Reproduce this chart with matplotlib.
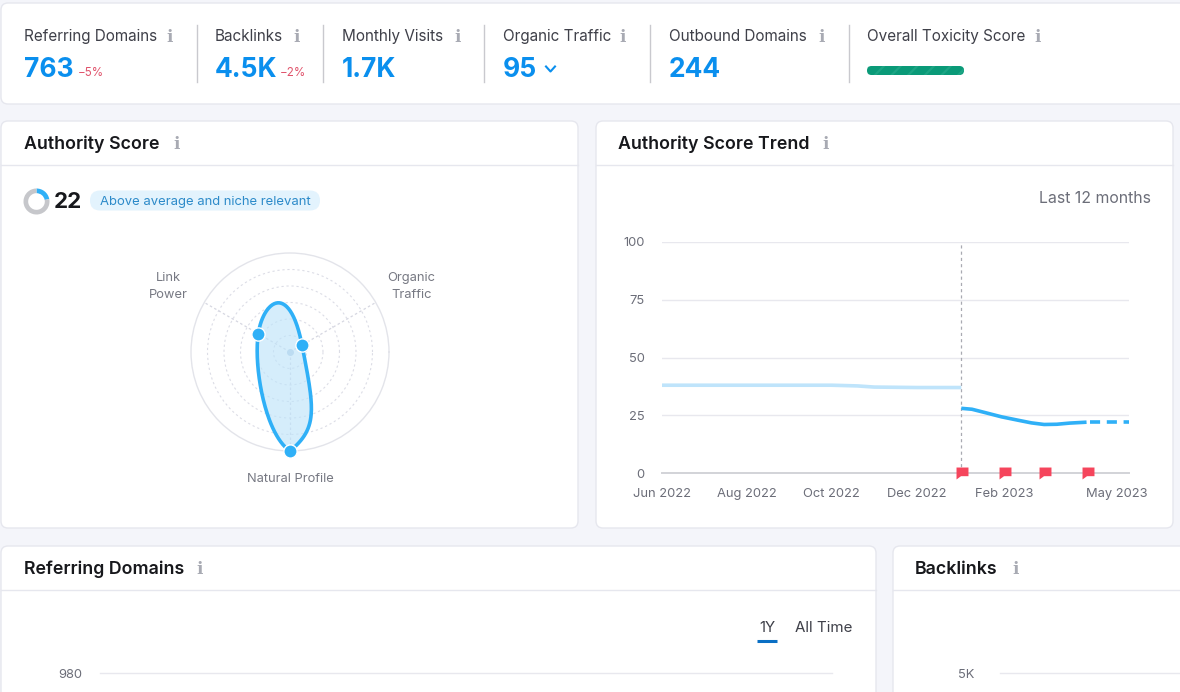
# Semrush style backlink overview dashboard
import numpy as np
import matplotlib
matplotlib.use("Agg")
import matplotlib.pyplot as plt
from matplotlib.patches import FancyBboxPatch
from matplotlib.path import Path

plt.rcParams['font.family'] = ['Inter', 'DejaVu Sans']
plt.rcParams['hatch.linewidth'] = 1.6

W, H = 1180, 692

# Top row metrics
metric_labels = ['Referring Domains', 'Backlinks', 'Monthly Visits', 'Organic Traffic', 'Outbound Domains', 'Overall Toxicity Score']
metric_values = ['763', '4.5K', '1.7K', '95', '244', '']
metric_deltas = ['−5%', '−2%', '', '', '', '']
toxicity_share = [1.0]

# Authority score
score = 22
score_badge = 'Above average and niche relevant'
radar_labels = ['Natural Profile', 'Link\nPower', 'Organic\nTraffic']
radar_angles = [270, 150, 30]
radar_values = [100, 37, 14]

# Trend chart
trend_ticks = [0, 25, 50, 75, 100]
month_ticks = [0, 2, 4, 6, 8.07, 11]
month_labels = ['Jun 2022', 'Aug 2022', 'Oct 2022', 'Dec 2022', 'Feb 2023', 'May 2023']
past_months = [0, 1, 2, 3, 4, 4.6, 5, 6, 7.05]
past_values = [38, 38, 38, 38, 38, 37.7, 37.2, 37, 37]
recent_months = [7.05, 7.3, 7.6, 8.0, 8.4, 8.7, 9.0, 9.3, 9.6, 10.0]
recent_values = [28, 27.6, 26.2, 24.3, 22.8, 21.7, 21, 21.1, 21.6, 22]
forecast_months = [10.07, 11]
forecast_values = [22, 22]
flag_months = [7.07, 8.08, 9.01, 10.03]
flag_values = [0, 0, 0, 0]

BLUE = '#0a8fee'
LINE_BLUE = '#2fb0f7'
TEXT = '#17181c'
MUTED = '#6c6e79'
GRID = '#e8e8ee'
ICON = '#a8aab3'

fig = plt.figure(figsize=(W / 100, H / 100), dpi=100, facecolor='#f4f5fa')


def px_axes(x0, y0, x1, y1, **kw):
    return fig.add_axes([x0 / W, 1 - y1 / H, (x1 - x0) / W, (y1 - y0) / H], **kw)


bg = fig.add_axes([0, 0, 1, 1])
bg.set_xlim(0, W)
bg.set_ylim(H, 0)
bg.axis('off')


def card(x0, y0, x1, y1):
    bg.add_patch(FancyBboxPatch((x0, y0), x1 - x0, y1 - y0, boxstyle='round,pad=0,rounding_size=7',
                                fc='white', ec='#e6e7ee', lw=1, zorder=1))


def info(x, y):
    bg.text(x, y, 'i', family='DejaVu Serif', fontweight='bold', fontsize=12, color=ICON,
            ha='center', va='baseline', zorder=3)


# cards
card(1, 3, 1190, 104)
card(1, 121, 578, 528)
card(596, 121, 1173, 528)
card(1, 546, 876, 710)
card(893, 546, 1200, 710)
for x0, x1, y in [(1, 578, 164.5), (596, 1173, 164.5), (1, 876, 589.5), (893, 1180, 589.5)]:
    bg.plot([x0, x1], [y, y], color='#e6e7ee', lw=1, zorder=2)

# top row
metric_x = [24, 215, 342, 503, 669, 867]
info_x = [170, 297, 458, 623, 822, 1038]
delta_x = [78, 280, None, None, None, None]
for i, label in enumerate(metric_labels):
    bg.text(metric_x[i], 41, label, fontsize=11, color='#3f4049', va='baseline', zorder=3)
    info(info_x[i], 42)
    if metric_values[i]:
        bg.text(metric_x[i], 77, metric_values[i], fontsize=19, fontweight='bold', color=BLUE, va='baseline', zorder=3)
    if metric_deltas[i]:
        bg.text(delta_x[i], 76.5, metric_deltas[i], fontsize=8.4, color='#e0536b', va='baseline', zorder=3)
for x in [197, 323, 484, 650, 849]:
    bg.plot([x, x], [25, 82], color='#c9c9ce', lw=1, zorder=3)
bg.plot([546, 550.5, 555], [66.5, 71.5, 66.5], color=BLUE, lw=1.5, zorder=3)
bg.add_patch(FancyBboxPatch((867, 66), 97 * toxicity_share[0], 9, boxstyle='round,pad=0,rounding_size=4.5',
                            fc='#0a9a78', ec='#1ca484', hatch='//', lw=0, zorder=3))

# card titles
for x, y, title, ix in [(24, 149, 'Authority Score', 177), (618, 149, 'Authority Score Trend', 826),
                        (24, 574, 'Referring Domains', 200), (915, 574, 'Backlinks', 1016)]:
    bg.text(x, y, title, fontsize=12.8, fontweight='semibold', color=TEXT, va='baseline', zorder=3)
    info(ix, y)

# score donut and badge
donut = px_axes(23.5, 188.5, 49.5, 214.5)
donut.pie([score, 100 - score], colors=[LINE_BLUE, '#c6c7cb'], startangle=90, counterclock=False,
          radius=1.25, wedgeprops=dict(width=0.45))
bg.text(54, 208.5, str(score), fontsize=16, fontweight='bold', color=TEXT, va='baseline', zorder=3)
bg.add_patch(FancyBboxPatch((90, 190.5), 230, 20, boxstyle='round,pad=0,rounding_size=10',
                            fc='#e3f3fd', ec='none', zorder=2))
bg.text(99.5, 205, score_badge, fontsize=9.4, color='#2c8ac9', va='baseline', zorder=3)

# radar
radar = px_axes(191, 253, 389, 451, projection='polar')
radar.set_facecolor('none')
radar.set_ylim(0, 100)
radar.set_yticks([16.67, 33.33, 50, 66.67, 83.33])
radar.set_yticklabels([])
radar.set_xticks(np.deg2rad(radar_angles))
radar.set_xticklabels([])
radar.grid(True, axis='y', color='#dcdde6', lw=0.8, ls=(0, (2, 2.5)))
radar.grid(True, axis='x', color='#d6d7e1', lw=0.9, ls=(0, (2, 2)))
radar.spines['polar'].set_color('#e3e4ea')
radar.spines['polar'].set_linewidth(1)

# closed spline through the three scores, tangents out of / into each anchor set by eye
th = np.deg2rad(radar_angles)
pts = np.column_stack([np.array(radar_values) * np.cos(th), np.array(radar_values) * np.sin(th)])
tan_out = np.array([(-75, 50), (15, 100), (38, -195)], dtype=float)
tan_in = np.array([(-85, -70), (15, 100), (38, -195)], dtype=float)
curve = []
for i in range(3):
    j = (i + 1) % 3
    t = np.linspace(0, 1, 60)[:, None]
    curve.append((2 * t**3 - 3 * t**2 + 1) * pts[i] + (t**3 - 2 * t**2 + t) * tan_out[i]
                 + (-2 * t**3 + 3 * t**2) * pts[j] + (t**3 - t**2) * tan_in[j])
curve = np.vstack(curve)
cth = np.arctan2(curve[:, 1], curve[:, 0])
cr = np.hypot(curve[:, 0], curve[:, 1])
radar.fill(cth, cr, color='#bfe4fa', alpha=0.65, lw=0, clip_on=False, zorder=3)
radar.plot(cth, cr, color=LINE_BLUE, lw=2.6, clip_on=False, zorder=4)
radar.plot(th, radar_values, 'o', ms=9.5, mfc=LINE_BLUE, mec='white', mew=1, ls='none', clip_on=False, zorder=5)
radar.plot([0], [0], 'o', ms=4, color='#bcdcf2', zorder=4)
bg.text(290, 482, radar_labels[0], fontsize=9.3, color='#777983', ha='center', va='baseline', zorder=3)
bg.text(168.5, 286.5, radar_labels[1], fontsize=9.3, color='#777983', ha='center', va='center', linespacing=1.55, zorder=3)
bg.text(411.5, 286.5, radar_labels[2], fontsize=9.3, color='#777983', ha='center', va='center', linespacing=1.55, zorder=3)

# trend chart
bg.text(1151, 203, 'Last 12 months', fontsize=11.4, color=MUTED, ha='right', va='baseline', zorder=3)
ax = px_axes(662, 242, 1129, 473)
ax.set_facecolor('none')
ax.set_xlim(0, 11)
ax.set_ylim(0, 100)
for s in ['top', 'right', 'left']:
    ax.spines[s].set_visible(False)
ax.spines['bottom'].set_color('#d2d3d8')
ax.spines['bottom'].set_linewidth(1.4)
ax.set_yticks(trend_ticks)
ax.set_xticks(month_ticks[:-1])
ax.set_xticklabels(month_labels[:-1])
ax.tick_params(length=0, labelsize=9.3, labelcolor=MUTED)
ax.tick_params(axis='x', pad=10.5)
ax.tick_params(axis='y', pad=12.5)
ax.grid(True, axis='y', color=GRID, lw=1)
ax.set_axisbelow(True)
ax.annotate(month_labels[-1], xy=(month_ticks[-1], 0), xytext=(18 * 0.72, -11), textcoords='offset points',
            ha='right', va='top', fontsize=9.3, color=MUTED, annotation_clip=False)
ax.plot([past_months[-1], past_months[-1]], [0, 99], color='#a9aab2', lw=0.9, ls=(0, (2.5, 2.5)), zorder=2)
ax.plot(past_months, past_values, color='#bfe4fb', lw=2.6, zorder=3, solid_capstyle='butt')
ax.plot(recent_months, recent_values, color=LINE_BLUE, lw=2.6, zorder=3, solid_capstyle='butt')
ax.plot(forecast_months, forecast_values, color=LINE_BLUE, lw=2.6, ls=(0, (2.8, 1.85)), zorder=3)
flag = Path([(-1, 1), (1, 1), (1, -0.45), (-0.25, -0.45), (-1, -1), (-1, 1)], closed=True)
ax.plot(flag_months, flag_values, ls='none', marker=flag, ms=8.6, mfc='#f5455c', mec='none', clip_on=False, zorder=5)

# bottom cards, cut off by the screenshot
bg.text(767, 632, '1Y', fontsize=10.9, color='#3f4049', ha='center', va='baseline', zorder=3)
bg.text(824, 632, 'All Time', fontsize=10.9, color='#3f4049', ha='center', va='baseline', zorder=3)
bg.plot([757, 777], [641, 641], color='#0a6fc4', lw=2.2, solid_capstyle='butt', zorder=3)
bg.text(70.5, 678, '980', fontsize=9.3, color=MUTED, ha='center', va='baseline', zorder=3)
bg.plot([100, 832], [673, 673], color=GRID, lw=1, zorder=2)
bg.text(966, 678, '5K', fontsize=9.3, color=MUTED, ha='center', va='baseline', zorder=3)
bg.plot([1000, 1180], [673, 673], color=GRID, lw=1, zorder=2)

fig.savefig('out.png', dpi=100, facecolor=fig.get_facecolor())
